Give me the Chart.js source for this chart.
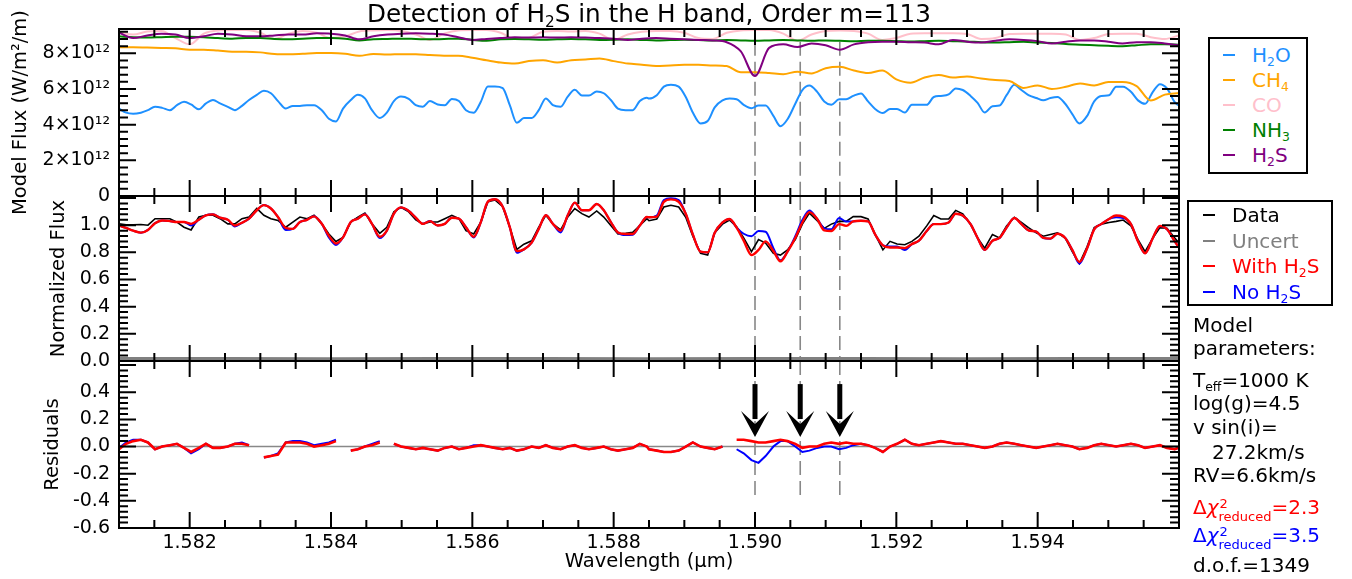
<!DOCTYPE html>
<html>
<head>
<meta charset="utf-8">
<title>Detection of H2S in the H band, Order m=113</title>
<script src="https://cdn.jsdelivr.net/npm/chart.js@4.4.1/dist/chart.umd.min.js"></script>
<style>
  body { margin: 0; background: #fff; }
  #fig { position: relative; width: 1352px; height: 579px; overflow: hidden;
         font-family: "DejaVu Sans", sans-serif; color: #000; }
  .layer { position: absolute; left: 0; top: 0; width: 1352px; height: 579px; }
  .t { position: absolute; white-space: nowrap; font-size: 20px; line-height: 24px; }
  sub { font-size: 0.62em; vertical-align: -0.32em; line-height: 0; }
  .box { position: absolute; border: 2px solid #000; background: #fff; }
  .mk { position: absolute; height: 2px; width: 12px; }
  .ss { position: relative; display: inline-block; font-size: 13px; line-height: 13px; vertical-align: -7px; }
  .ss .sp { position: absolute; left: 1px; top: -13px; }
</style>
</head>
<body>
<div id="fig">
  <div class="layer"><canvas id="modelChart"></canvas></div>
  <div class="layer"><canvas id="normChart"></canvas></div>
  <div class="layer"><canvas id="residChart"></canvas></div>

  <div class="t" id="title" style="left:0;width:1298px;text-align:center;top:0;font-size:24.7px;line-height:27px;">Detection of H<sub>2</sub>S in the H band, Order m=113</div>

  <div class="box" style="left:1208px;top:37px;width:96px;height:133px;">
    <span class="mk" style="left:13px;top:15px;background:#1e90ff"></span>
    <div class="t" style="left:42px;top:4px;color:#1e90ff">H<sub>2</sub>O</div>
    <span class="mk" style="left:13px;top:40px;background:#ffa500"></span>
    <div class="t" style="left:42px;top:29px;color:#ffa500">CH<sub>4</sub></div>
    <span class="mk" style="left:13px;top:65px;background:#ffc0cb"></span>
    <div class="t" style="left:42px;top:54px;color:#ffc0cb">CO</div>
    <span class="mk" style="left:13px;top:90px;background:#008000"></span>
    <div class="t" style="left:42px;top:79px;color:#008000">NH<sub>3</sub></div>
    <span class="mk" style="left:13px;top:115px;background:#800080"></span>
    <div class="t" style="left:42px;top:104px;color:#800080">H<sub>2</sub>S</div>
  </div>

  <div class="box" style="left:1187px;top:200px;width:142px;height:102px;">
    <span class="mk" style="left:14px;top:12px;background:#000"></span>
    <div class="t" style="left:43px;top:1px;color:#000">Data</div>
    <span class="mk" style="left:14px;top:38px;background:#808080"></span>
    <div class="t" style="left:43px;top:27px;color:#808080">Uncert</div>
    <span class="mk" style="left:14px;top:63px;background:#ff0000"></span>
    <div class="t" style="left:43px;top:52px;color:#ff0000">With H<sub>2</sub>S</div>
    <span class="mk" style="left:14px;top:89px;background:#0000ff"></span>
    <div class="t" style="left:43px;top:78px;color:#0000ff">No H<sub>2</sub>S</div>
  </div>

  <div class="t" style="left:1193px;top:313px;">Model</div>
  <div class="t" style="left:1193px;top:336px;">parameters:</div>
  <div class="t" style="left:1193px;top:368px;">T<sub>eff</sub>=1000 K</div>
  <div class="t" style="left:1193px;top:391px;">log(g)=4.5</div>
  <div class="t" style="left:1193px;top:415px;">v sin(i)=</div>
  <div class="t" style="left:1212px;top:440px;">27.2km/s</div>
  <div class="t" style="left:1193px;top:463px;">RV=6.6km/s</div>
  <div class="t" style="left:1193px;top:495px;color:#ff0000">Δ<i>χ</i><span class="ss"><span class="sp">2</span>reduced</span>=2.3</div>
  <div class="t" style="left:1193px;top:523px;color:#0000ff">Δ<i>χ</i><span class="ss"><span class="sp">2</span>reduced</span>=3.5</div>
  <div class="t" style="left:1193px;top:553px;">d.o.f.=1349</div>
</div>

<script>
// sampled wavelengths (micron) for data, fitted models, H2O and residuals
const waveFine = [
  1.58100,1.58110,1.58120,1.58131,1.58141,1.58151,1.58161,1.58172,1.58182,1.58192,
  1.58202,1.58213,1.58223,1.58233,1.58243,1.58254,1.58264,1.58274,1.58284,1.58295,
  1.58305,1.58315,1.58325,1.58336,1.58346,1.58356,1.58366,1.58376,1.58387,1.58397,
  1.58407,1.58417,1.58428,1.58438,1.58448,1.58458,1.58469,1.58479,1.58489,1.58499,
  1.58510,1.58520,1.58530,1.58540,1.58551,1.58561,1.58571,1.58581,1.58591,1.58602,
  1.58612,1.58622,1.58632,1.58643,1.58653,1.58663,1.58673,1.58684,1.58694,1.58704,
  1.58714,1.58725,1.58735,1.58745,1.58755,1.58765,1.58776,1.58786,1.58796,1.58806,
  1.58817,1.58827,1.58837,1.58847,
  1.58850,1.58861,1.58871,1.58881,1.58892,1.58902,1.58912,1.58923,1.58933,1.58943,
  1.58954,1.58964,1.58974,1.58984,1.58995,1.59005,1.59015,1.59026,1.59036,1.59046,
  1.59057,1.59067,1.59077,1.59088,1.59098,1.59108,1.59119,1.59129,1.59139,1.59150,
  1.59160,1.59170,1.59181,1.59191,1.59201,1.59212,1.59222,1.59232,1.59243,1.59253,
  1.59263,1.59274,1.59284,1.59294,1.59305,1.59315,1.59325,1.59336,1.59346,1.59356,
  1.59367,1.59377,1.59387,1.59398,1.59408,1.59418,1.59428,1.59439,1.59449,1.59459,
  1.59470,1.59480,1.59490,1.59501,1.59511,1.59521,1.59532,1.59542,1.59552,1.59563,
  1.59573,1.59583,1.59594,1.59604
];

// normalized flux
const dataFlux = [
  1.010,1.003,1.003,1.005,1.000,1.048,1.048,1.048,1.023,0.985,
  0.965,1.060,1.073,1.073,1.048,1.010,1.010,1.048,1.060,1.123,
  1.073,1.048,1.035,0.985,1.023,1.060,1.048,1.073,1.010,0.935,
  0.880,0.910,1.023,1.060,1.090,1.010,0.940,0.985,1.098,1.131,
  1.098,1.040,1.010,1.023,1.023,1.048,1.073,1.048,0.960,0.935,
  1.023,1.173,1.186,1.136,0.985,0.822,0.860,0.885,0.985,1.073,
  1.010,0.965,1.060,1.123,1.085,1.060,1.105,1.060,0.998,0.935,
  0.940,0.947,0.998,1.048,
  1.033,1.046,1.134,1.147,1.134,1.058,0.919,0.793,0.780,0.944,
  1.008,1.038,0.988,0.906,0.805,0.894,0.868,0.793,0.780,0.818,
  0.894,1.008,1.089,1.033,0.977,1.008,1.028,1.028,1.063,1.063,
  1.046,0.932,0.818,0.881,0.861,0.856,0.881,0.919,0.995,1.071,
  1.046,1.046,1.109,1.084,1.008,0.906,0.831,0.932,0.906,0.995,
  1.058,1.020,0.982,0.944,0.919,0.932,0.944,0.906,0.805,0.717,
  0.843,0.982,1.008,1.020,1.028,1.038,0.995,0.894,0.805,0.906,
  0.982,0.977,0.906,0.843
];
const fitWithH2S = [
  0.998,0.980,0.960,0.945,0.965,1.015,1.035,1.030,1.023,1.023,
  1.010,1.040,1.073,1.080,1.055,1.040,0.998,1.018,1.048,1.110,
  1.148,1.123,1.060,0.980,0.973,1.023,1.040,1.065,1.010,0.922,
  0.865,0.910,1.023,1.048,1.080,1.010,0.915,0.960,1.085,1.131,
  1.105,1.055,1.010,1.030,0.998,1.010,1.055,1.048,0.985,0.915,
  1.023,1.173,1.191,1.136,0.985,0.809,0.822,0.872,0.973,1.073,
  1.010,0.960,1.073,1.166,1.110,1.110,1.156,1.110,1.023,0.947,
  0.935,0.935,0.998,1.060,
  1.058,1.063,1.172,1.190,1.172,1.084,0.932,0.805,0.800,0.944,
  1.020,1.046,0.982,0.886,0.780,0.818,0.881,0.810,0.734,0.805,
  0.906,1.020,1.096,1.046,0.962,0.957,1.008,0.995,1.028,1.033,
  1.028,0.932,0.851,0.836,0.836,0.831,0.861,0.886,0.957,1.008,
  1.008,1.020,1.084,1.071,1.008,0.906,0.818,0.886,0.906,0.982,
  1.053,1.008,0.962,0.952,0.906,0.901,0.937,0.906,0.818,0.729,
  0.831,0.970,1.008,1.046,1.071,1.063,1.008,0.881,0.793,0.906,
  0.995,0.970,0.881,0.805
];
const fitNoH2S = [
  0.998,0.980,0.960,0.945,0.965,1.015,1.035,1.030,1.023,1.023,
  0.998,1.040,1.073,1.080,1.055,1.040,0.990,1.018,1.048,1.110,
  1.148,1.123,1.060,0.965,0.973,1.023,1.040,1.065,1.010,0.910,
  0.855,0.910,1.023,1.048,1.080,1.010,0.905,0.960,1.085,1.131,
  1.105,1.055,1.010,1.030,0.998,1.010,1.055,1.048,0.985,0.910,
  1.023,1.173,1.191,1.136,0.985,0.797,0.822,0.872,0.973,1.073,
  1.010,0.947,1.073,1.166,1.110,1.110,1.156,1.110,1.023,0.947,
  0.927,0.930,0.998,1.060,
  1.058,1.071,1.185,1.198,1.185,1.084,0.932,0.805,0.800,0.944,
  1.020,1.046,0.982,0.937,0.919,0.957,0.952,0.831,0.742,0.805,
  0.919,1.038,1.109,1.046,0.977,0.970,1.053,1.028,1.028,1.033,
  1.028,0.932,0.851,0.843,0.843,0.818,0.861,0.886,0.957,1.008,
  1.008,1.020,1.084,1.071,1.008,0.906,0.818,0.886,0.906,0.982,
  1.053,1.008,0.962,0.952,0.906,0.901,0.937,0.906,0.818,0.717,
  0.831,0.970,1.008,1.046,1.058,1.053,1.008,0.881,0.793,0.906,
  0.995,0.970,0.881,0.805
];

// residuals, data minus model (null = masked pixels)
const residWith = [
  -0.02,0.02,0.04,0.05,0.03,-0.02,0.00,0.01,0.02,-0.01,
  -0.04,-0.01,0.02,-0.01,-0.01,0.00,0.02,0.02,0.01,null,
  -0.08,-0.07,-0.06,0.03,0.03,0.03,0.02,0.00,0.01,0.02,
  0.04,null,-0.03,-0.02,0.00,0.01,0.03,null,0.02,0.00,
  -0.01,-0.02,-0.01,-0.02,-0.03,-0.01,0.00,-0.02,-0.01,0.00,
  0.01,0.00,-0.01,-0.02,-0.01,-0.03,-0.02,0.00,-0.01,0.01,
  -0.01,-0.02,0.00,0.01,-0.01,-0.02,-0.01,0.00,-0.02,-0.03,
  -0.02,-0.01,0.02,0.00,
  -0.02,-0.03,-0.04,-0.04,-0.03,0.00,0.03,0.00,-0.01,-0.02,
  0.00,null,0.05,0.05,0.04,0.03,0.03,0.04,0.05,0.04,
  0.02,-0.01,0.00,0.00,0.02,0.03,0.02,0.03,0.02,0.02,
  0.01,-0.01,-0.04,0.00,0.02,0.05,0.02,0.01,0.02,0.03,
  0.04,0.03,0.02,0.02,0.01,0.00,-0.01,0.00,0.02,0.03,
  0.02,0.01,0.00,-0.01,0.00,0.01,0.02,0.01,0.00,-0.02,
  -0.01,0.01,0.02,0.01,0.00,0.01,0.02,0.01,-0.01,0.00,
  0.01,-0.01,-0.02,0.00
];
const residNo = [
  -0.01,0.03,0.05,0.05,0.03,-0.02,0.00,0.01,0.02,-0.01,
  -0.05,-0.02,0.02,-0.01,-0.01,0.00,0.02,0.03,0.01,null,
  -0.08,-0.07,-0.05,0.03,0.04,0.04,0.03,0.01,0.02,0.03,
  0.05,null,-0.03,-0.02,0.00,0.02,0.04,null,0.02,0.00,
  -0.01,-0.02,-0.01,-0.02,-0.03,-0.01,0.00,-0.02,-0.01,0.01,
  0.01,0.00,-0.01,-0.02,-0.01,-0.03,-0.02,0.00,-0.01,0.01,
  -0.01,-0.02,0.00,0.01,-0.01,-0.02,-0.01,0.00,-0.02,-0.03,
  -0.02,-0.01,0.02,0.00,
  -0.02,-0.03,-0.04,-0.04,-0.03,0.00,0.03,0.00,-0.01,-0.02,
  0.00,null,-0.02,-0.05,-0.10,-0.12,-0.07,0.00,0.04,0.04,
  0.00,-0.04,-0.03,-0.01,0.00,0.00,-0.02,-0.01,0.01,0.02,
  0.01,-0.01,-0.04,0.00,0.02,0.05,0.02,0.01,0.02,0.03,
  0.04,0.03,0.02,0.02,0.01,0.00,-0.01,0.00,0.02,0.03,
  0.02,0.01,0.00,-0.01,0.00,0.01,0.02,0.01,0.00,-0.02,
  -0.01,0.01,0.02,0.01,0.00,0.01,0.02,0.01,-0.01,0.00,
  0.01,-0.01,-0.02,0.00
];

// model flux, units of 10^12 W/m^2/m
const fluxH2O = [
  4.90,4.67,4.61,4.67,4.81,5.00,4.94,4.81,5.09,5.28,
  5.13,4.86,5.19,5.38,5.19,5.00,4.81,5.05,5.38,5.67,
  5.90,5.76,5.32,4.90,5.05,5.05,5.09,5.09,4.81,4.33,
  4.18,4.90,5.38,5.67,5.47,4.81,4.37,4.67,5.32,5.57,
  5.44,5.09,5.00,5.32,5.13,5.09,5.44,5.32,4.81,4.67,
  5.28,6.14,6.14,6.05,5.09,4.10,4.37,4.37,4.81,5.47,
  5.09,5.00,5.57,5.95,5.63,5.63,5.86,5.76,5.38,4.90,
  4.81,4.81,5.32,5.51,
  5.46,5.65,6.13,6.23,6.13,5.55,4.68,4.07,4.20,4.97,
  5.36,5.46,5.42,5.11,4.92,5.07,5.07,4.49,3.91,4.30,
  5.17,5.94,6.19,5.84,5.30,5.11,5.42,5.42,5.61,5.75,
  5.30,4.88,4.65,4.88,4.88,4.68,5.11,5.11,5.11,5.55,
  5.61,5.69,6.03,5.94,5.61,5.22,4.68,5.03,5.07,5.65,
  6.23,5.94,5.65,5.49,5.36,5.49,5.55,5.17,4.59,4.07,
  4.49,5.30,5.61,5.65,6.13,6.13,5.84,5.36,5.17,5.84,
  6.27,6.03,5.26,4.97
];
const waveCoarse = [
  1.5810,1.5812,1.5814,1.5816,1.5818,1.5820,1.5822,1.5824,1.5826,1.5828,
  1.5830,1.5832,1.5834,1.5836,1.5838,1.5840,1.5842,1.5844,1.5846,1.5848,
  1.5850,1.5852,1.5854,1.5856,1.5858,1.5860,1.5862,1.5864,1.5866,1.5868,
  1.5870,1.5872,1.5874,1.5876,1.5878,1.5880,1.5882,1.5884,1.5886,1.5888,
  1.5890,1.5892,1.5894,1.5896,1.5898,1.5900,1.5902,1.5904,1.5906,1.5908,
  1.5910,1.5912,1.5914,1.5916,1.5918,1.5920,1.5922,1.5924,1.5926,1.5928,
  1.5930,1.5932,1.5934,1.5936,1.5938,1.5940,1.5942,1.5944,1.5946,1.5948,
  1.5950,1.5952,1.5954,1.5956,1.5958,1.5960
];
const fluxCH4 = [
  8.34,8.34,8.32,8.30,8.28,8.20,8.20,8.15,8.09,8.09,
  8.05,7.96,7.94,7.97,8.01,8.01,7.97,7.86,7.96,7.93,
  7.95,7.94,7.90,7.86,7.86,7.75,7.61,7.48,7.42,7.56,
  7.61,7.48,7.61,7.65,7.71,7.56,7.42,7.36,7.28,7.32,
  7.35,7.35,7.32,7.28,6.93,6.93,6.89,6.83,6.97,6.87,
  7.16,7.24,7.03,6.89,7.03,6.54,6.35,6.64,6.78,6.64,
  6.70,6.58,6.50,6.45,6.06,6.20,6.00,6.12,6.31,6.20,
  6.39,6.39,6.16,5.35,5.68,5.77
];
const fluxCO = [
  9.15,9.05,9.22,9.25,8.85,8.50,9.10,9.28,9.30,9.30,
  9.15,8.80,9.10,9.25,9.15,8.85,8.95,9.22,9.28,9.30,
  9.25,9.05,8.75,9.10,9.28,9.30,9.30,9.15,8.80,8.85,
  9.20,9.25,9.22,9.25,9.10,8.75,9.05,9.20,9.25,9.25,
  9.15,8.85,8.80,9.15,9.28,9.30,9.30,9.10,8.70,9.05,
  9.25,9.28,9.25,9.10,8.75,8.85,9.10,9.12,9.12,9.12,
  9.08,8.80,8.85,9.08,9.10,9.10,9.10,9.05,8.75,8.85,
  9.08,9.10,9.10,8.90,8.80,9.00
];
const fluxNH3 = [
  8.95,8.90,8.88,8.90,8.92,8.92,8.90,8.85,8.82,8.85,
  8.85,8.80,8.78,8.82,8.85,8.85,8.82,8.72,8.78,8.80,
  8.82,8.80,8.78,8.80,8.82,8.75,8.70,8.78,8.80,8.78,
  8.76,8.78,8.80,8.78,8.75,8.76,8.78,8.75,8.72,8.74,
  8.76,8.74,8.72,8.74,8.72,8.70,8.72,8.74,8.72,8.70,
  8.72,8.70,8.68,8.70,8.70,8.68,8.66,8.68,8.70,8.68,
  8.66,8.62,8.60,8.62,8.64,8.60,8.58,8.52,8.48,8.45,
  8.42,8.40,8.45,8.50,8.50,8.48
];
const fluxH2S = [
  9.15,8.85,9.00,9.10,9.05,8.85,8.95,9.10,9.05,8.95,
  8.95,9.00,9.05,9.05,9.12,9.10,9.00,8.78,8.95,9.05,
  9.10,9.12,9.10,9.05,8.90,8.75,8.80,8.85,8.90,8.88,
  8.90,8.88,8.90,8.88,8.85,8.82,8.75,8.82,8.85,8.82,
  8.78,8.75,8.72,8.62,8.10,6.72,8.30,8.50,8.35,8.55,
  8.45,8.20,8.50,8.62,8.65,8.65,8.62,8.60,8.50,8.75,
  8.65,8.60,8.70,8.78,8.75,8.68,8.55,8.65,8.72,8.72,
  8.65,8.55,8.62,8.62,8.55,8.45
];

// data uncertainty (normalized flux)
const waveUncert = [1.5810,1.5825,1.5840,1.5855,1.5870,1.5885,1.5900,1.5915,1.5930,1.5945,1.5960];
const uncert = [0.018,0.018,0.017,0.018,0.018,0.017,0.018,0.018,0.017,0.018,0.018];

// marked H2S line positions (micron)
const h2sLines = [1.5900, 1.59064, 1.5912];

// tick labels
const xTickLabels = [1.582, 1.584, 1.586, 1.588, 1.590, 1.592, 1.594];
const modelTicks = [0, 2, 4, 6, 8];
const normTicks = [0, 0.2, 0.4, 0.6, 0.8, 1.0];
const residTicks = [-0.6, -0.4, -0.2, 0, 0.2, 0.4];

const FONT = 'DejaVu Sans';
const X_MIN = 1.581, X_MAX = 1.596;

const pts = (xs, ys) => xs.map((x, i) => ({ x, y: ys[i] === null ? NaN : ys[i] }));

function line(xs, ys, color, width, order, smooth) {
  return {
    data: pts(xs, ys), borderColor: color, borderWidth: width,
    pointRadius: 0, fill: false, spanGaps: false, order,
    cubicInterpolationMode: smooth ? 'monotone' : 'default', tension: 0
  };
}

function markLines(ylo, yhi) {
  return h2sLines.map(l => ({
    data: [{ x: l, y: yhi }, { x: l, y: ylo }],
    borderColor: '#888', borderWidth: 1.6, borderDash: [14, 6],
    pointRadius: 0, fill: false, order: 20
  }));
}

// IDL-like box with inward ticks on all four sides
const idlAxes = {
  id: 'idlAxes',
  afterDatasetsDraw(chart, args, o) {
    const { ctx, chartArea: a } = chart;
    const xs = chart.scales.x, ys = chart.scales.y;
    ctx.save();
    ctx.strokeStyle = '#000';
    ctx.lineWidth = 2;
    ctx.beginPath();
    for (let i = 0; i <= 30; i++) {
      const px = xs.getPixelForValue(X_MIN + i * 0.0005);
      const len = i % 4 === 2 ? 16 : 8;
      ctx.moveTo(px, a.bottom); ctx.lineTo(px, a.bottom - len);
      ctx.moveTo(px, a.top); ctx.lineTo(px, a.top + len);
    }
    for (let i = 0; i <= o.count; i++) {
      const py = ys.getPixelForValue(o.start + i * o.step);
      const len = i % 5 === 0 ? 17 : 9;
      ctx.moveTo(a.left, py); ctx.lineTo(a.left + len, py);
      ctx.moveTo(a.right, py); ctx.lineTo(a.right - len, py);
    }
    ctx.stroke();
    ctx.strokeRect(a.left, a.top, a.right - a.left, a.bottom - a.top);
    ctx.restore();
  }
};

// arrows pointing at the H2S features in the residual panel
const arrows = {
  id: 'arrows',
  afterDatasetsDraw(chart) {
    if (chart.canvas.id !== 'residChart') return;
    const { ctx } = chart;
    const xs = chart.scales.x, ys = chart.scales.y;
    const top = ys.getPixelForValue(0.46), tip = ys.getPixelForValue(0.07);
    ctx.save();
    ctx.fillStyle = '#000';
    ctx.strokeStyle = '#000';
    for (const l of h2sLines) {
      const px = xs.getPixelForValue(l);
      ctx.lineWidth = 5;
      ctx.beginPath(); ctx.moveTo(px, top); ctx.lineTo(px, tip - 18); ctx.stroke();
      ctx.beginPath();
      ctx.moveTo(px, tip);
      ctx.lineTo(px - 14, tip - 26);
      ctx.lineTo(px, tip - 13);
      ctx.lineTo(px + 14, tip - 26);
      ctx.closePath();
      ctx.fill();
    }
    ctx.restore();
  }
};

function yAxis(cfg) {
  return {
    type: 'linear', min: cfg.min, max: cfg.max,
    grid: { display: false, drawTicks: false }, border: { display: false },
    afterBuildTicks: a => { a.ticks = cfg.labels.map(v => ({ value: v })); },
    afterFit: a => { a.width = 119; a.paddingTop = 0; a.paddingBottom = 0; },
    ticks: { padding: 9, color: '#000', font: { family: FONT, size: 19 }, autoSkip: false, callback: cfg.fmt },
    title: { display: true, text: cfg.title, color: '#000', font: { family: FONT, size: 19.5 }, padding: { top: cfg.titlePad } }
  };
}

function makeChart(id, cfg) {
  return new Chart(document.getElementById(id), {
    type: 'line',
    data: { datasets: cfg.datasets },
    options: {
      responsive: true, maintainAspectRatio: false, animation: false, parsing: false,
      events: [],
      layout: { autoPadding: false, padding: cfg.padding },
      plugins: { legend: { display: false }, tooltip: { enabled: false }, idlAxes: cfg.ticks },
      scales: { x: cfg.x, y: cfg.y }
    },
    plugins: [idlAxes, arrows]
  });
}

const hiddenX = { type: 'linear', min: X_MIN, max: X_MAX, display: false };

makeChart('modelChart', {
  padding: { left: 0, right: 173, top: 29, bottom: 383 },
  x: hiddenX,
  y: yAxis({ min: 0, max: 9.36, labels: modelTicks, title: 'Model Flux (W/m²/m)', titlePad: 9,
             fmt: v => v === 0 ? '0' : v + '×10¹²' }),
  ticks: { start: 0, step: 0.4, count: 23 },
  datasets: [
    line(waveCoarse, fluxH2S, '#800080', 2, 0, true),
    line(waveCoarse, fluxNH3, '#008000', 2, 1, true),
    line(waveCoarse, fluxCO, '#ffc0cb', 2, 2, true),
    line(waveCoarse, fluxCH4, '#ffa500', 2, 3, true),
    line(waveFine, fluxH2O, '#1e90ff', 2, 4, true),
    ...markLines(0, 8.65)
  ]
});

makeChart('normChart', {
  padding: { left: 0, right: 173, top: 196, bottom: 218 },
  x: hiddenX,
  y: yAxis({ min: 0, max: 1.215, labels: normTicks, title: 'Normalized Flux', titlePad: 47,
             fmt: v => v.toFixed(1) }),
  ticks: { start: 0, step: 0.04, count: 30 },
  datasets: [
    line(waveFine, fitWithH2S, '#ff0000', 2.4, 0, true),
    line(waveFine, fitNoH2S, '#0000ff', 2, 1, true),
    line(waveFine, dataFlux, '#000000', 1.6, 2, false),
    line(waveUncert, uncert, '#808080', 3, 3, false),
    ...markLines(0, 1.215)
  ]
});

makeChart('residChart', {
  padding: { left: 0, right: 173, top: 361, bottom: 0 },
  x: {
    type: 'linear', min: X_MIN, max: X_MAX, position: 'bottom',
    grid: { display: false, drawTicks: false }, border: { display: false },
    afterBuildTicks: a => { a.ticks = xTickLabels.map(v => ({ value: v })); },
    afterFit: a => { a.height = 51; a.paddingLeft = 0; a.paddingRight = 0; },
    ticks: { padding: 4, color: '#000', font: { family: FONT, size: 19 }, maxRotation: 0, autoSkip: false,
             callback: v => v.toFixed(3) },
    title: { display: true, text: 'Wavelength (μm)', color: '#000', font: { family: FONT, size: 19.5 }, padding: { bottom: 5 } }
  },
  y: yAxis({ min: -0.6, max: 0.63, labels: residTicks, title: 'Residuals', titlePad: 41,
             fmt: v => v.toFixed(1) }),
  ticks: { start: -0.6, step: 0.04, count: 30 },
  datasets: [
    line(waveFine, residWith, '#ff0000', 2.6, 0, false),
    line(waveFine, residNo, '#0000ff', 2, 1, false),
    line([X_MIN, X_MAX], [0, 0], '#888888', 1.5, 5, false),
    ...markLines(-0.375, 0.63)
  ]
});
</script>
</body>
</html>
